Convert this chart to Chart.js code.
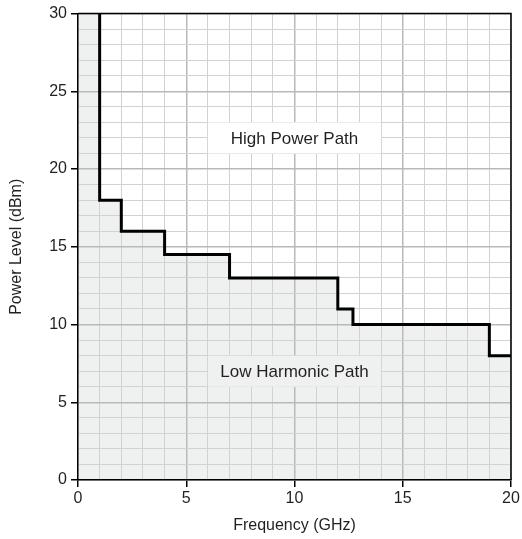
<!DOCTYPE html>
<html>
<head>
<meta charset="utf-8">
<script src="https://cdn.jsdelivr.net/npm/chart.js@4"></script>
<style>
  html, body { margin: 0; padding: 0; background: #fff; }
  #wrap { width: 522px; height: 539px; }
</style>
</head>
<body>
<div id="wrap"><canvas id="pathChart"></canvas></div>
<script>
// step boundaries (GHz) and the power level that applies from each boundary on
const stepFreqs = [1, 2, 4, 7, 12, 12.7, 19, 20];
const stepLevels = [30, 18, 16, 14.5, 13, 11, 10, 8];

const xTicks = [0, 5, 10, 15, 20];
const yTicks = [0, 5, 10, 15, 20, 25, 30];

const regionNames = ['High Power Path', 'Low Harmonic Path'];
const regionX = [[6, 14], [6, 14]];
const regionY = [[21, 23], [6, 8]];

const FONT = "'Liberation Sans', Arial, Helvetica, sans-serif";
const TEXT = '#231f20';
const FILL = '#eff0f0';

const stepPoints = stepFreqs.map((x, i) => ({ x, y: stepLevels[i] }));
const fillPoints = [{ x: 0, y: 30 }].concat(stepPoints);

function gridColor(ctx) {
  return ctx.tick && ctx.tick.value % 5 === 0 ? '#b9b9b9' : '#d2d2d2';
}
function gridWidth(ctx) {
  return ctx.tick && ctx.tick.value % 5 === 0 ? 1.5 : 1;
}
function tickMarkColor(ctx) {
  return ctx.tick && ctx.tick.value % 5 === 0 ? '#000' : 'rgba(0,0,0,0)';
}

const regionLabels = {
  id: 'regionLabels',
  afterDatasetsDraw(chart) {
    const { ctx, scales: { x, y } } = chart;
    ctx.save();
    regionNames.forEach((name, i) => {
      const left = x.getPixelForValue(regionX[i][0]);
      const right = x.getPixelForValue(regionX[i][1]);
      const top = y.getPixelForValue(regionY[i][1]);
      const bottom = y.getPixelForValue(regionY[i][0]);
      ctx.fillStyle = i === 0 ? '#ffffff' : FILL;
      ctx.fillRect(left, top, right - left, bottom - top);
      ctx.fillStyle = TEXT;
      ctx.font = `17px ${FONT}`;
      ctx.textAlign = 'center';
      ctx.textBaseline = 'middle';
      ctx.fillText(name, (left + right) / 2, (top + bottom) / 2 + 1);
    });
    ctx.restore();
  },
  afterDraw(chart) {
    const { ctx, chartArea: a } = chart;
    ctx.save();
    ctx.strokeStyle = '#000';
    ctx.lineWidth = 1.5;
    ctx.beginPath();
    ctx.moveTo(a.left, a.top);
    ctx.lineTo(a.right, a.top);
    ctx.lineTo(a.right, a.bottom);
    ctx.stroke();
    ctx.restore();
  },
};

new Chart(document.getElementById('pathChart'), {
  type: 'line',
  data: {
    datasets: [
      {
        label: 'Region',
        data: fillPoints,
        stepped: 'after',
        borderWidth: 0,
        borderColor: 'rgba(0,0,0,0)',
        backgroundColor: FILL,
        fill: 'origin',
        pointRadius: 0,
      },
      {
        label: 'Boundary',
        data: stepPoints,
        stepped: 'after',
        borderColor: '#000',
        borderWidth: 3,
        fill: false,
        pointRadius: 0,
      },
    ],
  },
  options: {
    responsive: true,
    maintainAspectRatio: false,
    animation: false,
    layout: { padding: { top: 12, right: 11, left: 0, bottom: 0 } },
    plugins: {
      legend: { display: false },
      tooltip: { enabled: false },
      filler: { drawTime: 'beforeDraw' },
    },
    scales: {
      x: {
        type: 'linear',
        min: 0,
        max: 20,
        afterFit: (scale) => { scale.height = 59; },
        afterBuildTicks: (scale) => {
          const t = [];
          for (let v = 0; v <= 20; v++) t.push({ value: v });
          scale.ticks = t;
        },
        ticks: {
          autoSkip: false,
          maxRotation: 0,
          color: TEXT,
          font: { family: FONT, size: 16 },
          padding: 2,
          callback: (v) => (xTicks.includes(v) ? String(v) : ''),
        },
        grid: {
          color: gridColor,
          lineWidth: gridWidth,
          tickColor: tickMarkColor,
          tickLength: 7,
          tickWidth: 1.5,
        },
        border: { color: '#000', width: 1.5 },
        title: {
          display: true,
          text: 'Frequency (GHz)',
          color: TEXT,
          font: { family: FONT, size: 16 },
          padding: { top: 0, bottom: 4 },
        },
      },
      y: {
        type: 'linear',
        min: 0,
        max: 30,
        afterFit: (scale) => { scale.width = 78; },
        afterBuildTicks: (scale) => {
          const t = [];
          for (let v = 0; v <= 30; v++) t.push({ value: v });
          scale.ticks = t;
        },
        ticks: {
          autoSkip: false,
          color: TEXT,
          font: { family: FONT, size: 16 },
          padding: 4,
          callback: (v) => (yTicks.includes(v) ? String(v) : ''),
        },
        grid: {
          color: gridColor,
          lineWidth: gridWidth,
          tickColor: tickMarkColor,
          tickLength: 7,
          tickWidth: 1.5,
        },
        border: { color: '#000', width: 1.5 },
        title: {
          display: true,
          text: 'Power Level (dBm)',
          color: TEXT,
          font: { family: FONT, size: 16 },
          padding: { top: 7, bottom: 0 },
        },
      },
    },
  },
  plugins: [regionLabels],
});
</script>
</body>
</html>
